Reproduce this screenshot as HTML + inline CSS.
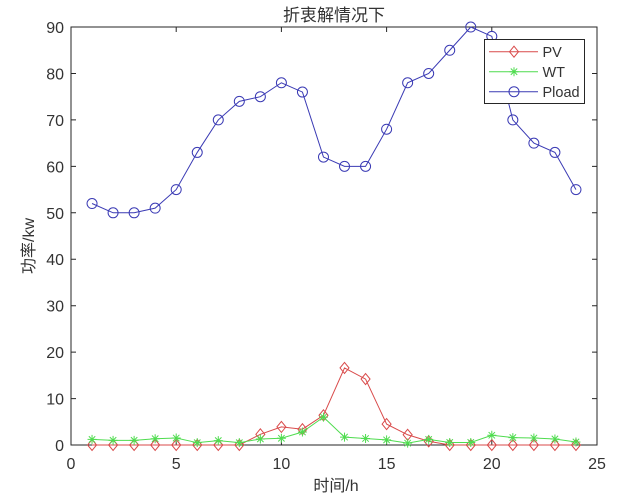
<!DOCTYPE html>
<html><head><meta charset="utf-8"><style>
html,body{margin:0;padding:0;background:#fff;}
svg{display:block;}
text{font-family:"Liberation Sans","Noto Sans CJK SC",sans-serif;fill:#333;}
.cjk{font-family:"Liberation Sans","Noto Sans CJK SC",sans-serif;}
</style></head><body>
<svg width="631" height="500" viewBox="0 0 631 500" xmlns="http://www.w3.org/2000/svg">
<rect x="0" y="0" width="631" height="500" fill="#fff"/>
<!-- axes box -->
<rect x="71" y="27" width="526" height="418" fill="#fff" stroke="#262626" stroke-width="1"/>
<!-- ticks -->
<g stroke="#262626" stroke-width="1">
<path d="M71 445H76M71 398.6H76M71 352.1H76M71 305.7H76M71 259.2H76M71 212.8H76M71 166.4H76M71 119.9H76M71 73.5H76M71 27H76"/>
<path d="M597 445H592M597 398.6H592M597 352.1H592M597 305.7H592M597 259.2H592M597 212.8H592M597 166.4H592M597 119.9H592M597 73.5H592M597 27H592"/>
<path d="M71 445V440M176.2 445V440M281.4 445V440M386.6 445V440M491.8 445V440M597 445V440"/>
<path d="M71 27V32M176.2 27V32M281.4 27V32M386.6 27V32M491.8 27V32M597 27V32"/>
</g>
<!-- y tick labels -->
<g font-size="16" text-anchor="end">
<text x="64" y="451">0</text>
<text x="64" y="404.6">10</text>
<text x="64" y="358.1">20</text>
<text x="64" y="311.7">30</text>
<text x="64" y="265.2">40</text>
<text x="64" y="218.8">50</text>
<text x="64" y="172.4">60</text>
<text x="64" y="125.9">70</text>
<text x="64" y="79.5">80</text>
<text x="64" y="33">90</text>
</g>
<!-- x tick labels -->
<g font-size="16" text-anchor="middle">
<text x="71" y="469">0</text>
<text x="176.2" y="469">5</text>
<text x="281.4" y="469">10</text>
<text x="386.6" y="469">15</text>
<text x="491.8" y="469">20</text>
<text x="597" y="469">25</text>
</g>
<!-- labels -->
<text x="334" y="21" font-size="17" text-anchor="middle" class="cjk">折衷解情况下</text>
<text x="336" y="491" font-size="16" text-anchor="middle" class="cjk">时间/h</text>
<text transform="translate(34,246) rotate(-90)" font-size="16" text-anchor="middle" class="cjk">功率/kw</text>

<defs>
<path id="dia" d="M0 -5.5L4.5 0L0 5.5L-4.5 0Z" fill="none" stroke="#d94a4a" stroke-width="1"/>
<path id="star" d="M-4.5 0H4.5M0 -4.5V4.5M-3.2 -3.2L3.2 3.2M-3.2 3.2L3.2 -3.2" fill="none" stroke="#4fdc4f" stroke-width="1"/>
<circle id="circ" r="5" fill="none" stroke="#3a3ab4" stroke-width="1"/>
</defs>

<!-- Pload -->
<polyline fill="none" stroke="#3a3ab4" stroke-width="1" points="92.04,203.51 113.08,212.8 134.12,212.8 155.16,208.16 176.2,189.58 197.24,152.43 218.28,119.92 239.32,101.34 260.36,96.7 281.4,82.77 302.44,92.06 323.48,157.07 344.52,166.36 365.56,166.36 386.6,129.21 407.64,82.77 428.68,73.48 449.72,50.26 470.76,27.04 491.8,36.33 512.84,119.92 533.88,143.14 554.92,152.43 575.96,189.58"/>
<g>
<use href="#circ" x="92.04" y="203.51"/><use href="#circ" x="113.08" y="212.8"/><use href="#circ" x="134.12" y="212.8"/><use href="#circ" x="155.16" y="208.16"/><use href="#circ" x="176.2" y="189.58"/><use href="#circ" x="197.24" y="152.43"/><use href="#circ" x="218.28" y="119.92"/><use href="#circ" x="239.32" y="101.34"/><use href="#circ" x="260.36" y="96.7"/><use href="#circ" x="281.4" y="82.77"/><use href="#circ" x="302.44" y="92.06"/><use href="#circ" x="323.48" y="157.07"/><use href="#circ" x="344.52" y="166.36"/><use href="#circ" x="365.56" y="166.36"/><use href="#circ" x="386.6" y="129.21"/><use href="#circ" x="407.64" y="82.77"/><use href="#circ" x="428.68" y="73.48"/><use href="#circ" x="449.72" y="50.26"/><use href="#circ" x="470.76" y="27.04"/><use href="#circ" x="491.8" y="36.33"/><use href="#circ" x="512.84" y="119.92"/><use href="#circ" x="533.88" y="143.14"/><use href="#circ" x="554.92" y="152.43"/><use href="#circ" x="575.96" y="189.58"/>
</g>

<!-- PV -->
<polyline fill="none" stroke="#d94a4a" stroke-width="1" points="92.04,445 113.08,445 134.12,445 155.16,445 176.2,445 197.24,445 218.28,445 239.32,445 260.36,434.32 281.4,426.89 302.44,429.21 323.48,415.28 344.52,367.91 365.56,379.06 386.6,424.1 407.64,434.78 428.68,441.28 449.72,445 470.76,445 491.8,445 512.84,445 533.88,445 554.92,445 575.96,445"/>
<g>
<use href="#dia" x="92.04" y="445"/><use href="#dia" x="113.08" y="445"/><use href="#dia" x="134.12" y="445"/><use href="#dia" x="155.16" y="445"/><use href="#dia" x="176.2" y="445"/><use href="#dia" x="197.24" y="445"/><use href="#dia" x="218.28" y="445"/><use href="#dia" x="239.32" y="445"/><use href="#dia" x="260.36" y="434.32"/><use href="#dia" x="281.4" y="426.89"/><use href="#dia" x="302.44" y="429.21"/><use href="#dia" x="323.48" y="415.28"/><use href="#dia" x="344.52" y="367.91"/><use href="#dia" x="365.56" y="379.06"/><use href="#dia" x="386.6" y="424.1"/><use href="#dia" x="407.64" y="434.78"/><use href="#dia" x="428.68" y="441.28"/><use href="#dia" x="449.72" y="445"/><use href="#dia" x="470.76" y="445"/><use href="#dia" x="491.8" y="445"/><use href="#dia" x="512.84" y="445"/><use href="#dia" x="533.88" y="445"/><use href="#dia" x="554.92" y="445"/><use href="#dia" x="575.96" y="445"/>
</g>

<!-- WT -->
<polyline fill="none" stroke="#4fdc4f" stroke-width="1" points="92.04,439.43 113.08,440.36 134.12,440.36 155.16,438.73 176.2,438.03 197.24,442.68 218.28,440.59 239.32,442.68 260.36,438.96 281.4,438.27 302.44,432 323.48,417.14 344.52,437.1 365.56,438.5 386.6,439.89 407.64,443.14 428.68,439.43 449.72,442.45 470.76,442.45 491.8,435.25 512.84,437.57 533.88,438.03 554.92,438.96 575.96,441.98"/>
<g>
<use href="#star" x="92.04" y="439.43"/><use href="#star" x="113.08" y="440.36"/><use href="#star" x="134.12" y="440.36"/><use href="#star" x="155.16" y="438.73"/><use href="#star" x="176.2" y="438.03"/><use href="#star" x="197.24" y="442.68"/><use href="#star" x="218.28" y="440.59"/><use href="#star" x="239.32" y="442.68"/><use href="#star" x="260.36" y="438.96"/><use href="#star" x="281.4" y="438.27"/><use href="#star" x="302.44" y="432"/><use href="#star" x="323.48" y="417.14"/><use href="#star" x="344.52" y="437.1"/><use href="#star" x="365.56" y="438.5"/><use href="#star" x="386.6" y="439.89"/><use href="#star" x="407.64" y="443.14"/><use href="#star" x="428.68" y="439.43"/><use href="#star" x="449.72" y="442.45"/><use href="#star" x="470.76" y="442.45"/><use href="#star" x="491.8" y="435.25"/><use href="#star" x="512.84" y="437.57"/><use href="#star" x="533.88" y="438.03"/><use href="#star" x="554.92" y="438.96"/><use href="#star" x="575.96" y="441.98"/>
</g>

<!-- legend -->
<rect x="484.5" y="39.5" width="100" height="64" fill="#fff" stroke="#262626" stroke-width="1"/>
<line x1="489" y1="51.7" x2="538" y2="51.7" stroke="#d94a4a" stroke-width="1"/>
<use href="#dia" x="514" y="51.7"/>
<line x1="489" y1="71.7" x2="538" y2="71.7" stroke="#4fdc4f" stroke-width="1"/>
<use href="#star" x="514" y="71.7"/>
<line x1="489" y1="91.7" x2="538" y2="91.7" stroke="#3a3ab4" stroke-width="1"/>
<use href="#circ" x="514" y="91.7"/>
<g font-size="14.5">
<text x="542.5" y="57">PV</text>
<text x="542.5" y="77">WT</text>
<text x="542.5" y="97">Pload</text>
</g>
</svg>
</body></html>
